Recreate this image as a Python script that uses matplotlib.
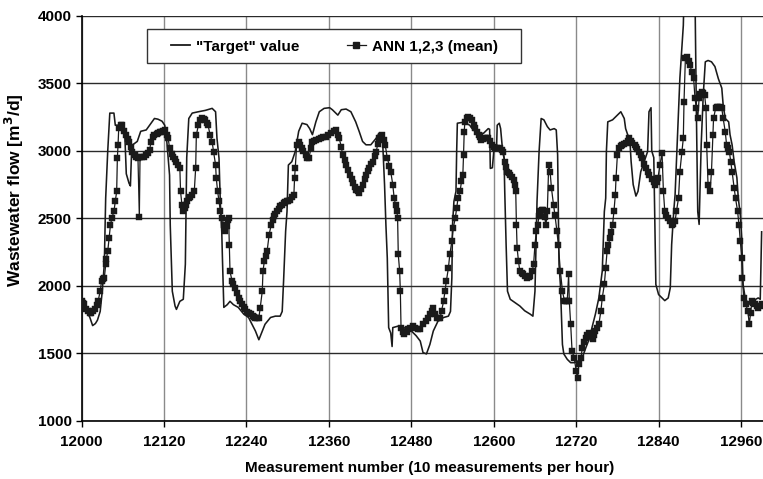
import matplotlib
matplotlib.use("Agg")
import matplotlib.pyplot as plt
from matplotlib.lines import Line2D
from matplotlib.patches import Rectangle

# ---------------- data ----------------
target_x = [12000, 12002, 12006, 12012, 12016, 12020, 12023, 12027, 12030, 12033, 12035, 12038, 12041, 12047,
            12049, 12057, 12063, 12065, 12069, 12071, 12073, 12081, 12086, 12094, 12099, 12106, 12111, 12117,
            12121, 12124, 12128, 12129, 12132, 12136, 12138, 12143, 12148, 12151, 12153, 12156, 12161, 12170,
            12180, 12190, 12195, 12197, 12200, 12202, 12204, 12205, 12207, 12212, 12216, 12221, 12228, 12236,
            12243, 12248, 12253, 12258, 12263, 12267, 12275, 12282, 12289, 12292, 12294, 12297, 12299, 12301,
            12306, 12311, 12316, 12321, 12328, 12332, 12336, 12341, 12346, 12353, 12361, 12365, 12373, 12378,
            12385, 12392, 12399, 12404, 12409, 12414, 12421, 12429, 12433, 12438, 12441, 12443, 12445, 12447,
            12450, 12452, 12453, 12460, 12467, 12472, 12480, 12487, 12493, 12497, 12502, 12507, 12512, 12519,
            12527, 12534, 12537, 12539, 12540, 12542, 12545, 12546, 12547, 12553, 12558, 12565, 12570, 12578,
            12585, 12592, 12594, 12595, 12598, 12600, 12604, 12605, 12608, 12610, 12613, 12615, 12616, 12618,
            12620, 12624, 12631, 12638, 12645, 12653, 12657, 12660, 12663, 12666, 12669, 12673, 12678, 12682,
            12688, 12691, 12693, 12694, 12695, 12697, 12700, 12702, 12707, 12712, 12717, 12724, 12729, 12734,
            12739, 12743, 12748, 12753, 12758, 12761, 12763, 12764, 12766, 12773, 12780, 12785, 12790, 12792,
            12795, 12798, 12800, 12803, 12807, 12810, 12814, 12819, 12824, 12826, 12829, 12830, 12833, 12836,
            12840, 12845, 12849, 12854, 12857, 12859, 12862, 12864, 12866, 12869, 12871, 12874, 12876, 12877,
            12893, 12895, 12897, 12899, 12902, 12905, 12908, 12912, 12917, 12922, 12927, 12932, 12934, 12937,
            12942, 12944, 12947, 12950, 12954, 12956, 12959, 12961, 12962, 12963, 12966, 12971, 12976, 12985,
            12988, 12990]
target_y = [1920, 1870, 1830, 1765, 1705, 1720, 1745, 1810, 1960, 2160, 2650, 3000, 3280, 3280,
            3190, 3190, 3100, 2830, 2760, 2740, 3040, 3070, 3145, 3155, 3190, 3240, 3235, 3220,
            3190, 3070, 2820, 2450, 1960, 1850, 1825, 1885, 1900, 2160, 2950, 3240, 3280, 3290,
            3300, 3315, 3290, 3095, 2945, 2600, 2400, 2200, 1840, 1860, 1885, 1860, 1840, 1790,
            1765, 1715, 1665, 1600, 1665, 1715, 1765, 1775, 1775, 1810, 2035, 2405, 2550, 2895,
            2920, 2995, 3145, 3205, 3195, 3165, 3120, 3215, 3290, 3315, 3320, 3305, 3265, 3305,
            3310, 3290, 3215, 3145, 3070, 3045, 3045, 3095, 3130, 3095, 2750, 2450, 2205, 1690,
            1650, 1550, 1690, 1700, 1700, 1680, 1665, 1630, 1590, 1505, 1495, 1565, 1665, 1740,
            1765, 1775, 1810, 2060, 2455, 2625, 2700, 2995, 3205, 3210, 3210, 3190, 3155, 3130,
            3130, 3165, 3160, 2870, 2875, 2995, 3005, 3190, 3205, 3165, 2995, 2945, 2700, 2305,
            1960, 1900, 1875, 1850, 1815, 1790, 1775, 1960, 2625, 2995, 3240, 3230, 3180, 3155,
            3165, 3155, 2970, 2550, 2160, 2010, 1565, 1495, 1455, 1430, 1430, 1445, 1470, 1540,
            1605, 1690, 1790, 1910, 2110, 2550, 2650, 2995, 3215, 3230, 3265, 3290, 3240, 3165,
            3120, 3095, 2920, 2750, 2665, 2700, 2845, 2920, 2995, 3290, 3320, 3000, 2950, 2010,
            1935, 1910, 1890, 1910, 1985, 2305, 2550, 2675, 2920, 3290, 3540, 3780, 3930, 4150,
            4150, 3290, 2550, 2455, 3045, 3415, 3660, 3670, 3660, 3625, 3535, 3465, 3340, 3240,
            3215, 3120, 3045, 2920, 2800, 2650, 2525, 2355, 2180, 2010, 1910, 1860, 1885, 1910,
            1900, 2400]

ann_x = [12000, 12002, 12004, 12007, 12009, 12012, 12014, 12017, 12019, 12022, 12024, 12027, 12029, 12031,
         12033, 12035, 12036, 12038, 12040, 12042, 12044, 12047, 12049, 12051, 12052, 12053, 12054, 12057,
         12059, 12062, 12064, 12067, 12069, 12072, 12074, 12077, 12079, 12082, 12084, 12085, 12088, 12091,
         12094, 12096, 12099, 12101, 12104, 12106, 12109, 12111, 12114, 12116, 12119, 12121, 12124, 12126,
         12128, 12131, 12133, 12136, 12138, 12141, 12143, 12144, 12146, 12148, 12150, 12152, 12154, 12156,
         12158, 12161, 12164, 12166, 12167, 12170, 12173, 12175, 12178, 12180, 12182, 12184, 12187, 12190,
         12192, 12195, 12196, 12198, 12200, 12202, 12204, 12207, 12209, 12211, 12213, 12214, 12215, 12216,
         12219, 12221, 12224, 12226, 12229, 12231, 12233, 12236, 12238, 12241, 12244, 12246, 12249, 12251,
         12253, 12256, 12258, 12260, 12263, 12264, 12266, 12268, 12270, 12273, 12276, 12278, 12280, 12282,
         12284, 12287, 12289, 12291, 12294, 12296, 12299, 12301, 12304, 12306, 12309, 12310, 12311, 12313,
         12316, 12318, 12321, 12323, 12326, 12328, 12331, 12334, 12336, 12339, 12341, 12345, 12348, 12352,
         12356, 12359, 12363, 12367, 12370, 12373, 12375, 12378, 12380, 12383, 12385, 12388, 12390, 12393,
         12395, 12398, 12400, 12402, 12404, 12407, 12409, 12412, 12414, 12417, 12419, 12422, 12424, 12427,
         12429, 12431, 12433, 12436, 12438, 12440, 12442, 12445, 12448, 12450, 12453, 12455, 12457, 12459,
         12460, 12461, 12463, 12464, 12465, 12468, 12470, 12473, 12475, 12478, 12482, 12485, 12489, 12493,
         12497, 12502, 12504, 12507, 12510, 12512, 12515, 12517, 12520, 12522, 12524, 12527, 12529, 12531,
         12534, 12536, 12539, 12541, 12544, 12546, 12548, 12551, 12553, 12555, 12556, 12557, 12558, 12561,
         12563, 12566, 12568, 12571, 12573, 12576, 12578, 12580, 12582, 12585, 12587, 12590, 12592, 12595,
         12597, 12600, 12602, 12605, 12609, 12612, 12614, 12616, 12618, 12620, 12622, 12624, 12627, 12629,
         12631, 12632, 12633, 12634, 12636, 12638, 12641, 12643, 12646, 12648, 12651, 12653, 12656, 12658,
         12660, 12662, 12664, 12666, 12668, 12670, 12672, 12674, 12676, 12678, 12680, 12682, 12684, 12687,
         12689, 12692, 12694, 12697, 12700, 12703, 12705, 12707, 12709, 12710, 12712, 12714, 12717, 12720,
         12722, 12724, 12727, 12729, 12731, 12734, 12736, 12739, 12741, 12744, 12746, 12748, 12751, 12753,
         12756, 12758, 12761, 12763, 12765, 12767, 12769, 12771, 12773, 12775, 12777, 12778, 12780, 12782,
         12785, 12787, 12790, 12792, 12795, 12797, 12800, 12802, 12805, 12807, 12809, 12811, 12814, 12816,
         12819, 12821, 12824, 12826, 12830, 12833, 12835, 12837, 12839, 12842, 12845, 12847, 12849, 12851,
         12854, 12856, 12859, 12861, 12864, 12866, 12869, 12871, 12874, 12876, 12877, 12879, 12882, 12884,
         12886, 12888, 12891, 12893, 12895, 12897, 12899, 12901, 12903, 12905, 12907, 12909, 12910, 12912,
         12915, 12917, 12919, 12920, 12923, 12925, 12927, 12930, 12932, 12934, 12937, 12939, 12941, 12943,
         12945, 12947, 12950, 12952, 12955, 12957, 12959, 12961, 12962, 12964, 12967, 12970, 12972, 12974,
         12976, 12978, 12980, 12983, 12985, 12988, 12990]
ann_y = [1887, 1870, 1862, 1830, 1813, 1800, 1800, 1815, 1825, 1860, 1887, 1961, 2035, 2050,
         2059, 2158, 2200, 2256, 2355, 2453, 2502, 2552, 2626, 2700, 2946, 3044, 3167, 3190,
         3192, 3150, 3118, 3090, 3069, 3030, 2995, 2970, 2958, 2950, 2510, 2955, 2958, 2958,
         2970, 2983, 3007, 3069, 3100, 3118, 3125, 3130, 3140, 3143, 3150, 3155, 3120, 3094,
         3020, 2980, 2958, 2940, 2921, 2895, 2872, 2700, 2601, 2552, 2580, 2601, 2625, 2650,
         2660, 2675, 2700, 2872, 3118, 3192, 3230, 3241, 3235, 3229, 3210, 3192, 3118, 3069,
         2995, 2897, 2798, 2700, 2626, 2552, 2502, 2453, 2404, 2440, 2490, 2502, 2300, 2108,
         2035, 2010, 1985, 1950, 1911, 1885, 1862, 1840, 1825, 1805, 1795, 1788, 1775, 1768,
         1764, 1764, 1764, 1837, 1961, 2108, 2182, 2220, 2256, 2379, 2453, 2490, 2515, 2535,
         2552, 2570, 2589, 2600, 2613, 2620, 2626, 2630, 2638, 2655, 2675, 2798, 2872, 3044,
         3069, 3045, 3020, 3000, 2970, 2945, 2950, 3020, 3069, 3075, 3081, 3090, 3094, 3100,
         3106, 3118, 3130, 3145, 3155, 3120, 3094, 3030, 2970, 2930, 2897, 2860, 2823, 2790,
         2761, 2735, 2712, 2700, 2687, 2715, 2749, 2790, 2823, 2850, 2872, 2900, 2921, 2960,
         2995, 3050, 3094, 3110, 3118, 3080, 3044, 2946, 2890, 2847, 2749, 2650, 2600, 2552,
         2502, 2232, 2108, 1961, 1690, 1660, 1640, 1660, 1677, 1690, 1702, 1690, 1677, 1680,
         1714, 1739, 1760, 1788, 1810, 1837, 1790, 1764, 1760, 1764, 1813, 1887, 1961, 2035,
         2133, 2232, 2330, 2429, 2502, 2576, 2650, 2700, 2773, 2823, 2970, 3143, 3217, 3240,
         3254, 3240, 3229, 3195, 3167, 3140, 3118, 3100, 3081, 3088, 3094, 3094, 3094, 3070,
         3044, 3030, 3020, 3020, 3020, 3005, 2995, 2921, 2880, 2847, 2835, 2823, 2805, 2786,
         2745, 2700, 2453, 2281, 2182, 2108, 2095, 2084, 2070, 2059, 2065, 2072, 2110, 2158,
         2305, 2404, 2453, 2520, 2552, 2560, 2564, 2510, 2453, 2552, 2897, 2847, 2724, 2601,
         2527, 2404, 2305, 2108, 1961, 1887, 1887, 1887, 2084, 1887, 1714, 1517, 1468, 1370,
         1320, 1419, 1468, 1542, 1580, 1616, 1635, 1653, 1630, 1604, 1635, 1665, 1690, 1714,
         1813, 1911, 2010, 2133, 2256, 2300, 2355, 2400, 2453, 2552, 2675, 2798, 2970, 3020,
         3035, 3044, 3050, 3057, 3075, 3094, 3075, 3057, 3045, 3032, 3015, 2995, 2970, 2946,
         2900, 2872, 2845, 2823, 2790, 2770, 2749, 2770, 2798, 2897, 2983, 2700, 2552, 2525,
         2502, 2480, 2453, 2460, 2478, 2552, 2650, 2847, 2995, 3094, 3365, 3685, 3697, 3665,
         3635, 3586, 3537, 3389, 3315, 3241, 3389, 3420, 3438, 3430, 3414, 3315, 3044, 2749,
         2700, 2847, 3118, 3241, 3315, 3322, 3328, 3322, 3315, 3241, 3143, 3044, 3020, 2995,
         2921, 2847, 2724, 2650, 2552, 2453, 2330, 2207, 2059, 1911, 1862, 1813, 1714, 1800,
         1887, 1875, 1862, 1850, 1837, 1850, 1862]

x_ticks = [12000, 12120, 12240, 12360, 12480, 12600, 12720, 12840, 12960]
y_ticks = [1000, 1500, 2000, 2500, 3000, 3500, 4000]

# ---------------- figure ----------------
plt.rcParams['font.family'] = ['Liberation Sans', 'DejaVu Sans']
plt.rcParams['font.weight'] = 'bold'

fig = plt.figure(figsize=(7.63, 4.79), dpi=100)
ax = fig.add_axes([0.107, 0.1217, 0.893, 0.845])

ax.set_xlim(12000, 12992)
ax.set_ylim(1000, 4000)
ax.set_xticks(x_ticks)
ax.set_yticks(y_ticks)

for xv in x_ticks:
    ax.axvline(xv, color='#8a8a8a', lw=1.0, zorder=0)
for yv in y_ticks:
    ax.axhline(yv, color='#2a2a2a', lw=1.0, zorder=0)

ax.plot(target_x, target_y, color='#1a1a1a', lw=1.15, zorder=3)
ax.plot(ann_x, ann_y, color='#1a1a1a', lw=0.9, marker='s', ms=3.9,
        mfc='#1a1a1a', mec='#1a1a1a', mew=0.3, zorder=4)

for s in ['top', 'right']:
    ax.spines[s].set_visible(False)
ax.spines['left'].set_color('black')
ax.spines['bottom'].set_color('black')
ax.spines['left'].set_linewidth(1.2)
ax.spines['bottom'].set_linewidth(1.2)

ax.tick_params(axis='both', direction='out', length=4, width=1, labelsize=11)
ax.tick_params(axis='x', pad=6)
ax.tick_params(axis='y', pad=3)
for lbl in ax.get_xticklabels() + ax.get_yticklabels():
    lbl.set_fontweight('bold')

ax.set_xlabel('Measurement number (10 measurements per hour)', fontsize=11, fontweight='bold')
ax.xaxis.set_label_coords(0.51, -0.1)
ax.set_ylabel('Wastewater flow [m$^\\mathbf{3}$/d]', fontsize=12.5, fontweight='bold')
ax.yaxis.set_label_coords(-0.081, 0.57)

# legend: frame drawn as a rectangle in figure pixels, entries placed inside
box = Rectangle((147 / 763, 1 - 63.3 / 479), (521 - 147) / 763, 34 / 479,
                transform=fig.transFigure, facecolor='white', edgecolor='#333333',
                lw=1.0, zorder=5)
fig.patches.append(box)

handles = [Line2D([], [], color='#1a1a1a', lw=1.3),
           Line2D([], [], color='#1a1a1a', lw=0.9, marker='s', ms=3.9)]
leg = fig.legend(handles, ['"Target" value', 'ANN 1,2,3 (mean)'], ncol=2,
                 loc='center left', bbox_to_anchor=(171 / 763, 1 - 46.5 / 479),
                 frameon=False, fontsize=11, handlelength=1.25, handletextpad=0.4,
                 borderpad=0, columnspacing=3.1, borderaxespad=0)
leg.set_zorder(6)
for t in leg.get_texts():
    t.set_fontweight('bold')

fig.savefig('out.png', dpi=100)
